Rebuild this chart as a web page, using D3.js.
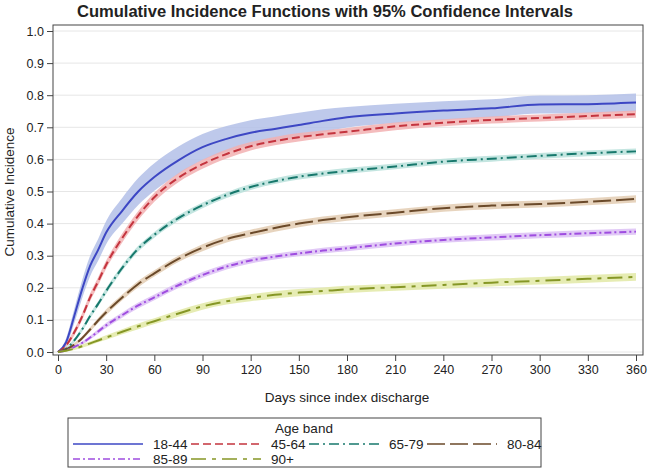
<!DOCTYPE html>
<html>
<head>
<meta charset="utf-8">
<script src="https://cdn.jsdelivr.net/npm/d3@7"></script>
<style>
  body { margin: 0; background: #fff; }
  text { font-family: "Liberation Sans", Arial, sans-serif; fill: #222; }
</style>
</head>
<body>
<div id="chart"></div>
<script>
const days = [0, 5, 10, 15, 20, 25, 30, 40, 50, 60, 75, 90, 105, 120, 135, 150, 165, 180, 210, 240, 270, 300, 330, 360];

const bands = ["18-44", "45-64", "65-79", "80-84", "85-89", "90+"];

const cif1844 = [0, 0.03, 0.11, 0.195, 0.268, 0.318, 0.372, 0.44, 0.5, 0.545, 0.597, 0.638, 0.664, 0.683, 0.695, 0.707, 0.72, 0.731, 0.743, 0.752, 0.759, 0.771, 0.772, 0.777];
const cif4564 = [0, 0.02, 0.06, 0.11, 0.17, 0.22, 0.272, 0.355, 0.425, 0.482, 0.543, 0.585, 0.617, 0.641, 0.657, 0.669, 0.678, 0.686, 0.703, 0.714, 0.723, 0.729, 0.735, 0.741];
const cif6579 = [0, 0.01, 0.035, 0.07, 0.112, 0.15, 0.19, 0.262, 0.322, 0.365, 0.417, 0.457, 0.489, 0.514, 0.532, 0.546, 0.556, 0.564, 0.578, 0.593, 0.602, 0.611, 0.619, 0.625];
const cif8084 = [0, 0.008, 0.022, 0.043, 0.07, 0.098, 0.124, 0.17, 0.212, 0.245, 0.29, 0.325, 0.352, 0.37, 0.386, 0.4, 0.411, 0.42, 0.434, 0.448, 0.456, 0.461, 0.468, 0.477];
const cif8589 = [0, 0.005, 0.015, 0.028, 0.045, 0.064, 0.083, 0.115, 0.145, 0.17, 0.208, 0.24, 0.266, 0.285, 0.297, 0.307, 0.316, 0.323, 0.338, 0.349, 0.357, 0.364, 0.37, 0.375];
const cif90 = [0, 0.004, 0.01, 0.018, 0.027, 0.036, 0.045, 0.063, 0.08, 0.096, 0.12, 0.142, 0.158, 0.169, 0.178, 0.185, 0.19, 0.195, 0.202, 0.209, 0.216, 0.222, 0.228, 0.234];

// half width of the 95% CI at each day
const ci1844 = [0, 0.012, 0.022, 0.028, 0.032, 0.034, 0.036, 0.04, 0.042, 0.043, 0.043, 0.041, 0.04, 0.039, 0.039, 0.038, 0.036, 0.032, 0.03, 0.029, 0.028, 0.028, 0.028, 0.028];
const ci4564 = [0, 0.006, 0.009, 0.011, 0.012, 0.013, 0.013, 0.014, 0.014, 0.014, 0.014, 0.014, 0.014, 0.013, 0.013, 0.013, 0.012, 0.012, 0.012, 0.011, 0.011, 0.011, 0.011, 0.011];
const ci6579 = [0, 0.004, 0.006, 0.007, 0.008, 0.008, 0.009, 0.009, 0.009, 0.009, 0.009, 0.009, 0.009, 0.009, 0.009, 0.009, 0.009, 0.009, 0.009, 0.009, 0.009, 0.009, 0.009, 0.009];
const ci8084 = [0, 0.003, 0.005, 0.006, 0.007, 0.008, 0.009, 0.009, 0.01, 0.01, 0.01, 0.011, 0.011, 0.011, 0.011, 0.011, 0.011, 0.011, 0.011, 0.011, 0.011, 0.011, 0.011, 0.011];
const ci8589 = [0, 0.003, 0.004, 0.005, 0.006, 0.007, 0.008, 0.008, 0.009, 0.009, 0.009, 0.009, 0.009, 0.009, 0.009, 0.009, 0.009, 0.009, 0.009, 0.009, 0.01, 0.01, 0.01, 0.01];
const ci90 = [0, 0.003, 0.004, 0.005, 0.006, 0.006, 0.007, 0.008, 0.009, 0.009, 0.01, 0.01, 0.01, 0.011, 0.011, 0.011, 0.011, 0.011, 0.011, 0.012, 0.012, 0.012, 0.012, 0.012];

const cifs = [cif1844, cif4564, cif6579, cif8084, cif8589, cif90];
const cis = [ci1844, ci4564, ci6579, ci8084, ci8589, ci90];

const xTicks = d3.range(0, 361, 30);
const yTicks = d3.range(0, 1.001, 0.1);

const lineColors = ["#3d47c4", "#c4343e", "#17786c", "#6b4a2a", "#9f4de0", "#869726"];
const bandColors = ["#b3bfe8", "#f2b0b2", "#b8e0db", "#e3cdb3", "#dcc0f5", "#e2e9a6"];
const dashes = ["none", "8,4", "10,4,2,4", "18,5", "7,3,2,3", "15,6,4,6"];

const W = 650, H = 471;
const frame = { left: 53, right: 643, top: 25, bottom: 355 };

const svg = d3.select("#chart").append("svg")
    .attr("width", W)
    .attr("height", H);

const x = d3.scaleLinear().domain([0, 360]).range([58, 636]);
const y = d3.scaleLinear().domain([0, 1]).range([352, 31]);

// title
svg.append("text")
    .attr("x", 325)
    .attr("y", 17)
    .attr("text-anchor", "middle")
    .style("font-size", "16px")
    .style("font-weight", "bold")
    .attr("textLength", 496)
    .attr("lengthAdjust", "spacingAndGlyphs")
    .text("Cumulative Incidence Functions with 95% Confidence Intervals");

// grid
svg.append("g")
    .selectAll("line")
    .data(yTicks)
    .join("line")
    .attr("x1", frame.left)
    .attr("x2", frame.right)
    .attr("y1", d => y(d))
    .attr("y2", d => y(d))
    .attr("stroke", "#e6e6e6")
    .attr("stroke-width", 1);

const series = bands.map((name, i) => ({
    name: name,
    pts: days.map((d, j) => ({ day: d, v: cifs[i][j], lo: Math.max(0, cifs[i][j] - cis[i][j]), hi: cifs[i][j] + cis[i][j] }))
}));

const area = d3.area()
    .x(d => x(d.day))
    .y0(d => y(d.lo))
    .y1(d => y(d.hi))
    .curve(d3.curveMonotoneX);

const line = d3.line()
    .x(d => x(d.day))
    .y(d => y(d.v))
    .curve(d3.curveMonotoneX);

// CI bands
svg.append("g")
    .selectAll("path")
    .data(series)
    .join("path")
    .attr("d", d => area(d.pts))
    .attr("fill", (d, i) => bandColors[i])
    .attr("fill-opacity", 0.85);

// CIF lines
svg.append("g")
    .selectAll("path")
    .data(series)
    .join("path")
    .attr("d", d => line(d.pts))
    .attr("fill", "none")
    .attr("stroke", (d, i) => lineColors[i])
    .attr("stroke-width", 2)
    .attr("stroke-dasharray", (d, i) => dashes[i]);

// frame
svg.append("rect")
    .attr("x", frame.left)
    .attr("y", frame.top)
    .attr("width", frame.right - frame.left)
    .attr("height", frame.bottom - frame.top)
    .attr("fill", "none")
    .attr("stroke", "#444")
    .attr("stroke-width", 1);

// axes
const yAxis = svg.append("g")
    .attr("transform", `translate(${frame.left},0)`)
    .call(d3.axisLeft(y).tickValues(yTicks).tickFormat(d3.format(".1f")).tickSize(6).tickSizeOuter(0));
yAxis.select(".domain").remove();

const xAxis = svg.append("g")
    .attr("transform", `translate(0,${frame.bottom})`)
    .call(d3.axisBottom(x).tickValues(xTicks).tickSize(6).tickSizeOuter(0));
xAxis.select(".domain").remove();

svg.selectAll(".tick line").attr("stroke", "#444");
svg.selectAll(".tick text")
    .style("font-size", "12.5px")
    .style("font-family", "'Liberation Sans', Arial, sans-serif")
    .attr("fill", "#222");
yAxis.selectAll(".tick text").attr("x", -9);
xAxis.selectAll(".tick text").attr("y", 10);

// axis labels
svg.append("text")
    .attr("transform", "translate(14,192) rotate(-90)")
    .attr("text-anchor", "middle")
    .style("font-size", "13.5px")
    .text("Cumulative Incidence");

svg.append("text")
    .attr("x", 347)
    .attr("y", 402)
    .attr("text-anchor", "middle")
    .style("font-size", "13.5px")
    .text("Days since index discharge");

// legend
const legend = svg.append("g");
legend.append("rect")
    .attr("x", 68)
    .attr("y", 418)
    .attr("width", 473)
    .attr("height", 49)
    .attr("fill", "#fff")
    .attr("stroke", "#444")
    .attr("stroke-width", 1);

legend.append("text")
    .attr("x", 304)
    .attr("y", 433)
    .attr("text-anchor", "middle")
    .style("font-size", "13.5px")
    .text("Age band");

const item = legend.selectAll("g.item")
    .data(bands)
    .join("g")
    .attr("class", "item")
    .attr("transform", (d, i) => `translate(${73 + (i % 4) * 118},${444 + Math.floor(i / 4) * 15})`);

item.append("line")
    .attr("x1", 0)
    .attr("x2", 70)
    .attr("stroke", (d, i) => lineColors[i])
    .attr("stroke-width", 1.5)
    .attr("stroke-dasharray", (d, i) => dashes[i]);

item.append("text")
    .attr("x", 80)
    .attr("y", 5)
    .style("font-size", "13.5px")
    .text(d => d);
</script>
</body>
</html>
